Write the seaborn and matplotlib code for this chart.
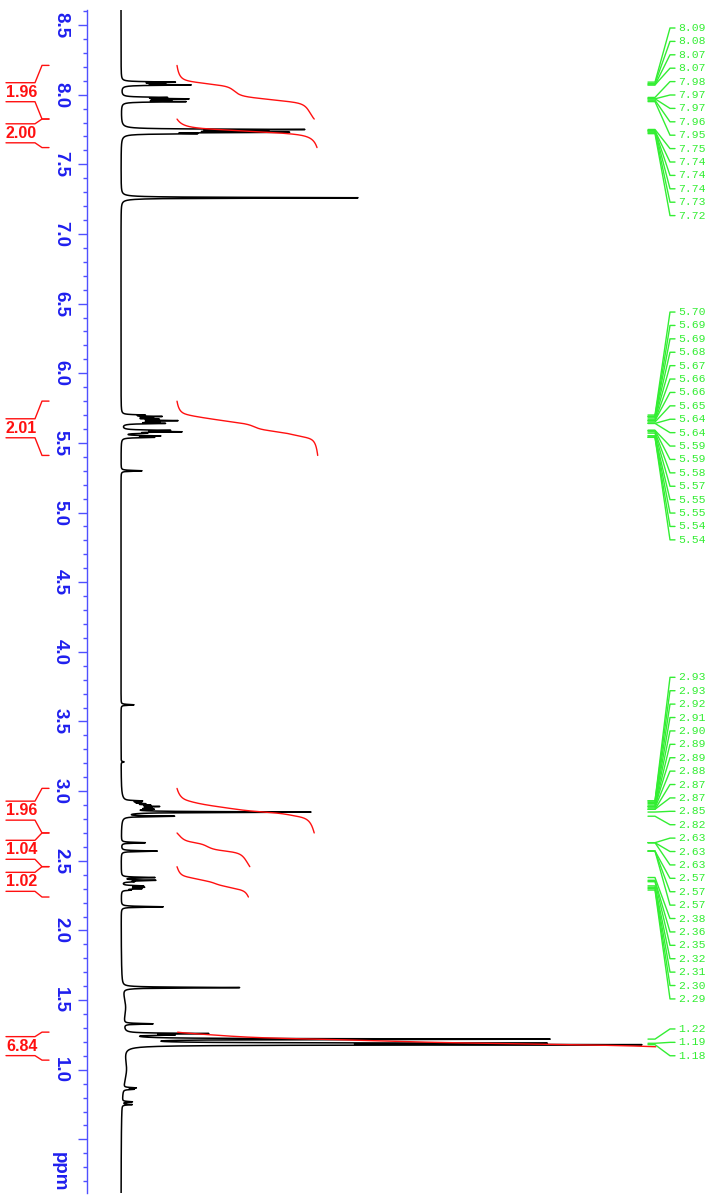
import numpy as np
import pandas as pd
import matplotlib
matplotlib.use("Agg")
import matplotlib.pyplot as plt
import seaborn as sns
from matplotlib import font_manager
from matplotlib.ticker import FixedLocator, MultipleLocator

# labelled peaks (ppm as printed on the right) and their heights
peak_ppm = [8.09, 8.08, 8.07, 8.07, 7.98, 7.97, 7.97, 7.96, 7.95,
            7.75, 7.74, 7.74, 7.74, 7.73, 7.72,
            5.70, 5.69, 5.69, 5.68, 5.67, 5.66, 5.66, 5.65, 5.64, 5.64,
            5.59, 5.59, 5.58, 5.57, 5.55, 5.55, 5.54, 5.54,
            2.93, 2.93, 2.92, 2.91, 2.90, 2.89, 2.89, 2.88, 2.87, 2.87, 2.85, 2.82,
            2.63, 2.63, 2.63, 2.57, 2.57, 2.57,
            2.38, 2.36, 2.35, 2.32, 2.31, 2.30, 2.29,
            1.22, 1.19, 1.18]
peak_height = [50, 35, 33, 33, 40, 30, 30, 40, 60,
               170, 40, 40, 40, 150, 60,
               20, 18, 18, 25, 30, 25, 25, 30, 20, 20,
               22, 22, 55, 20, 18, 18, 15, 15,
               8, 8, 12, 14, 16, 12, 12, 16, 10, 10, 185, 50,
               8, 8, 8, 12, 12, 12,
               33, 33, 10, 20, 20, 18, 8,
               420, 380, 485]

# solvent / impurity peaks without labels
other_ppm = [7.26, 5.30, 3.62, 3.21, 2.17, 1.59, 1.33, 1.26, 1.25, 0.87, 0.86, 0.77, 0.75]
other_height = [237, 21, 13, 3, 42, 117, 29, 79, 40, 12, 10, 10, 10]

# broad humps under the baseline
broad_ppm = [2.89, 1.45, 1.0]
broad_height = [10, 4, 5]
broad_width = [0.03, 0.1, 0.12]

# integrals
integral_from = [8.21, 7.825, 5.80, 3.02, 2.70, 2.458, 1.27]
integral_to = [7.825, 7.62, 5.41, 2.70, 2.458, 2.24, 1.165]
integral_value = [1.96, 2.00, 2.01, 1.96, 1.04, 1.02, 6.84]

sns.set_style("white")
installed = {f.name for f in font_manager.fontManager.ttflist}
if "Liberation Sans Narrow" in installed:
    label_font, tick_size, int_size = "Liberation Sans Narrow", 14.5, 13.5
else:
    label_font, tick_size, int_size = "Liberation Sans", 13.5, 11.5
plt.rcParams["font.family"] = [label_font, "DejaVu Sans"]

PX = 139.3  # pixels per ppm


def ppm_at(py):
    return 8.5 - (py - 25) / PX


def lorentz(x, x0, h, w):
    return h * w ** 2 / ((x - x0) ** 2 + w ** 2)


ppm = np.arange(0.11, 8.62, 0.0005)
w_sharp = 0.003
w_int = 0.012
spec = np.zeros_like(ppm)
spec_int = np.zeros_like(ppm)
for p, h in zip(peak_ppm + other_ppm, peak_height + other_height):
    spec += lorentz(ppm, p, h, w_sharp)
    spec_int += lorentz(ppm, p, h * w_sharp / w_int, w_int)
for p, h, w in zip(broad_ppm, broad_height, broad_width):
    spec += lorentz(ppm, p, h, w)
    spec_int += lorentz(ppm, p, h, w)

df = pd.DataFrame({"ppm": ppm[::-1], "intensity": spec[::-1]})

fig = plt.figure(figsize=(7.15, 11.97), dpi=100)
ax = fig.add_axes([87 / 715, 4 / 1197, 628 / 715, 1183 / 1197])

sns.lineplot(data=df, x="intensity", y="ppm", sort=False, estimator=None,
             color="black", lw=1.1, ax=ax)

red = "#ff1010"
green = "#33ee33"
K = 70
x0 = 56
for lo, hi, val in zip(integral_to, integral_from, integral_value):
    m = (ppm >= lo) & (ppm <= hi)
    yy = ppm[m][::-1]
    cum = np.cumsum(spec_int[m][::-1])
    cum = cum / cum[-1] * val * K
    sns.lineplot(x=x0 + cum, y=yy, sort=False, estimator=None, color=red, lw=1.0, ax=ax)

    # bracket + value on the left
    yt = 25 + (8.5 - hi) * PX
    yb = 25 + (8.5 - lo) * PX
    if yb - yt < 28:
        yb = yt + 28
    yc = (yt + yb) / 2
    xs = [49, 42, 35, 6]
    ax.plot([x - 121 for x in xs], [ppm_at(yt), ppm_at(yt), ppm_at(yc - 9.5), ppm_at(yc - 9.5)],
            color=red, lw=1.0, clip_on=False)
    ax.plot([x - 121 for x in xs], [ppm_at(yb), ppm_at(yb), ppm_at(yc + 9.5), ppm_at(yc + 9.5)],
            color=red, lw=1.0, clip_on=False)
    ax.text(6 - 121, ppm_at(yc), f"{val:.2f}", color=red, fontsize=int_size,
            fontweight="bold", ha="left", va="center", clip_on=False)

# peak labels on the right
spacing = 13.4 / PX
groups = [[0]]
for i in range(1, len(peak_ppm)):
    if peak_ppm[i - 1] - peak_ppm[i] > 0.5:
        groups.append([i])
    else:
        groups[-1].append(i)
for g in groups:
    vals = [peak_ppm[i] for i in g]
    first = np.mean(vals) + (len(g) - 1) / 2 * spacing
    first = min(first, ppm_at(28))
    for k, v in enumerate(vals):
        ly = first - k * spacing
        ax.plot([648 - 121, 655 - 121, 670 - 121, 675 - 121], [v, v, ly, ly],
                color=green, lw=1.0, clip_on=False)
        ax.text(678 - 121, ly, f"{v:.2f}", color=green, fontsize=8.2,
                family="Liberation Mono", ha="left", va="center", clip_on=False)

ax.set_xlim(87 - 121, 715 - 121)
ax.set_ylim(ppm_at(1193), ppm_at(10))
ax.set_xlabel("")
ax.set_ylabel("")
ax.set_xticks([])

blue_line = "#5050ff"
blue_text = "#1f1fee"
for s in ["top", "right", "bottom"]:
    ax.spines[s].set_visible(False)
ax.spines["left"].set_color(blue_line)
ax.spines["left"].set_linewidth(1.0)

major = list(np.arange(0.5, 8.51, 0.5))
ax.yaxis.set_major_locator(FixedLocator(major))
ax.yaxis.set_minor_locator(MultipleLocator(0.1))
ax.set_yticklabels(["" if abs(t - 0.5) < 1e-6 else f"{t:.1f}" for t in major])
ax.tick_params(axis="y", which="both", left=True, direction="out")
ax.tick_params(axis="y", which="major", length=6.5, width=1.0, color=blue_line,
               labelcolor=blue_text, labelsize=tick_size, pad=6.5, labelrotation=-90)
ax.tick_params(axis="y", which="minor", length=3, width=1.0, color=blue_line)
for lbl in ax.get_yticklabels():
    lbl.set_fontweight("bold")
    lbl.set_va("center")

ax.text(68 - 121, ppm_at(1172), "ppm", color=blue_text, fontsize=tick_size,
        fontweight="bold", rotation=-90, ha="right", va="center", clip_on=False)

fig.savefig("out.png", dpi=100)
